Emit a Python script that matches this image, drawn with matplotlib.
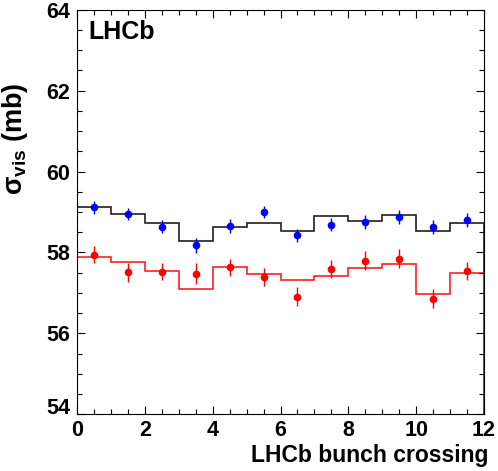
import numpy as np
import matplotlib.pyplot as plt
from matplotlib.ticker import MultipleLocator

plt.rcParams['font.family'] = ['Liberation Sans', 'DejaVu Sans']
plt.rcParams['font.weight'] = 'bold'
plt.rcParams['mathtext.fontset'] = 'custom'
plt.rcParams['mathtext.rm'] = 'Liberation Sans:bold'
plt.rcParams['mathtext.it'] = 'Liberation Sans:bold'
plt.rcParams['mathtext.bf'] = 'Liberation Sans:bold'

# bin edges (bunch crossing)
edges = np.arange(0, 13)
centres = edges[:-1] + 0.5

# histograms (expected values)
hist_black = [59.12, 58.95, 58.73, 58.29, 58.64, 58.73, 58.52, 58.89, 58.78, 58.92, 58.52, 58.74]
hist_red = [57.88, 57.77, 57.54, 57.11, 57.64, 57.47, 57.32, 57.43, 57.62, 57.71, 56.98, 57.50]

# measured points
blue_vals = [59.12, 58.96, 58.64, 58.18, 58.66, 59.00, 58.42, 58.69, 58.75, 58.87, 58.63, 58.81]
blue_errs = [0.16, 0.15, 0.17, 0.19, 0.17, 0.16, 0.17, 0.17, 0.17, 0.17, 0.17, 0.17]
red_vals = [57.95, 57.51, 57.53, 57.48, 57.63, 57.39, 56.91, 57.59, 57.80, 57.85, 56.86, 57.54]
red_errs = [0.20, 0.24, 0.22, 0.25, 0.22, 0.22, 0.24, 0.23, 0.24, 0.24, 0.24, 0.22]

yticks = [54, 56, 58, 60, 62, 64]

fig = plt.figure(figsize=(4.98, 4.71), dpi=100)
ax = fig.add_axes([0.1546, 0.12, 0.8174, 0.8598])

ax.stairs(hist_black, edges, baseline=54, color='#202020', linewidth=1.2)
ax.stairs(hist_red, edges, baseline=54, color='#ff2020', linewidth=1.2)

ax.errorbar(centres, blue_vals, yerr=blue_errs, fmt='o', color='blue',
            markersize=4.5, elinewidth=1, capsize=0)
ax.errorbar(centres, red_vals, yerr=red_errs, fmt='o', color='red',
            markersize=4.5, elinewidth=1, capsize=0)

ax.set_xlim(0, 12)
ax.set_ylim(54, 64)
ax.xaxis.set_major_locator(MultipleLocator(2))
ax.xaxis.set_minor_locator(MultipleLocator(0.5))
ax.set_yticks(yticks)
ax.yaxis.set_minor_locator(MultipleLocator(0.5))
ax.tick_params(which='both', direction='in', top=True, right=True, labelsize=15.5, width=0.8)
ax.tick_params(which='major', length=6)
ax.tick_params(which='minor', length=3.5)
ax.tick_params(axis='x', pad=4)
ax.tick_params(axis='y', pad=5)
ax.get_yticklabels()[0].set_va('baseline')
for s in ax.spines.values():
    s.set_linewidth(0.8)

ax.set_xlabel('LHCb bunch crossing', fontsize=16.5, fontweight='bold', ha='right', va='top')
ax.xaxis.set_label_coords(1.01, -0.073)
ax.set_ylabel(r'$\sigma_{vis}$ (mb)', fontsize=19.5, fontweight='bold', va='center')
ax.yaxis.set_label_coords(-0.152, 0.68)

ax.text(0.027, 0.975, 'LHCb', transform=ax.transAxes, fontsize=18,
        fontweight='bold', ha='left', va='top')

fig.savefig('out.png', dpi=100)
